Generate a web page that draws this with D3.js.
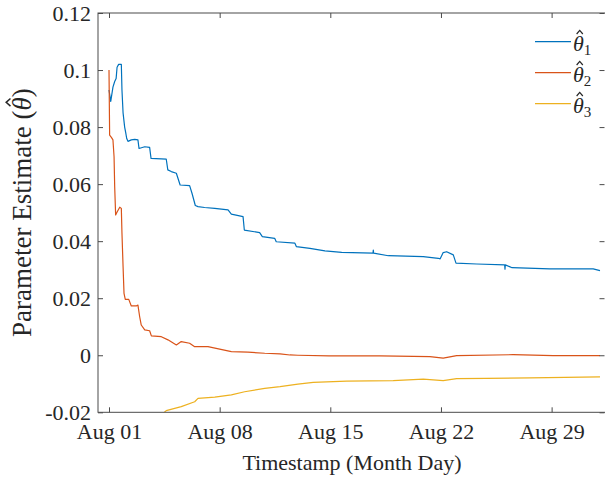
<!DOCTYPE html>
<html>
<head>
<script src="https://d3js.org/d3.v7.min.js"></script>
<style>
  body { margin: 0; background: #fff; }
  text { font-family: "Liberation Serif", "Times New Roman", serif; fill: #262626; }
</style>
</head>
<body>
<script>
// day of August (fractional), parameter value
var theta1 = [[1.00,0.093],[1.11,0.089],[1.25,0.094],[1.36,0.096],[1.45,0.097],[1.51,0.101],[1.61,0.102],[1.78,0.102],
  [1.82,0.093],[1.89,0.085],[1.99,0.080],[2.06,0.078],[2.12,0.076],[2.20,0.075],[2.41,0.0755],[2.63,0.0757],[2.83,0.0755],
  [2.90,0.0725],[3.26,0.0731],[3.57,0.0729],[3.66,0.069],[4.62,0.0688],[4.72,0.065],[4.94,0.0644],[5.26,0.0638],
  [5.50,0.0597],[6.10,0.0595],[6.25,0.0568],[6.46,0.0525],[6.63,0.0521],[7.05,0.0518],[7.69,0.0515],[8.53,0.051],
  [8.74,0.0495],[9.48,0.0486],[9.56,0.0439],[10.53,0.043],[10.70,0.0416],[11.48,0.041],[11.58,0.0398],[12.76,0.0393],
  [12.85,0.0381],[13.71,0.0375],[14.66,0.0366],[15.72,0.0361],[17.70,0.0358],[17.72,0.0369],[17.74,0.0358],[18.67,0.0349],
  [20.88,0.0346],[21.83,0.034],[21.95,0.0338],[22.14,0.036],[22.36,0.0363],[22.78,0.0352],[22.95,0.0323],[24.26,0.032],
  [26.03,0.0317],[26.05,0.0302],[26.07,0.0317],[26.50,0.0307],[28.89,0.0303],[31.63,0.0303],[32.06,0.0297]];

var theta2 = [[1.00,0.100],[1.04,0.0772],[1.15,0.0764],[1.25,0.0755],[1.32,0.0696],[1.36,0.0591],[1.42,0.0492],[1.52,0.0503],
  [1.68,0.0519],[1.78,0.0515],[1.82,0.0428],[1.89,0.0311],[1.95,0.0217],[2.03,0.0196],[2.25,0.0196],[2.41,0.0173],
  [2.73,0.0173],[2.83,0.0176],[2.94,0.0135],[3.04,0.0106],[3.26,0.0089],[3.57,0.0086],[3.68,0.0068],[4.31,0.0065],
  [4.73,0.0054],[5.26,0.0036],[5.57,0.0048],[6.10,0.0042],[6.42,0.003],[7.26,0.003],[8.74,0.0013],[9.79,0.0011],
  [10.85,0.0007],[11.82,0.0005],[12.45,0.0001],[12.95,0.0],[14.92,-0.0002],[18.14,-0.0002],[21.30,-0.0005],
  [22.14,-0.001],[22.99,-0.0001],[26.57,0.0002],[29.10,-0.0001],[32.06,-0.0001]];

var theta3 = [[4.30,-0.021],[4.62,-0.0194],[5.57,-0.018],[6.42,-0.0163],[6.63,-0.0151],[7.69,-0.0147],[8.74,-0.0139],
  [9.58,-0.0128],[10.85,-0.0116],[11.82,-0.011],[12.95,-0.0101],[13.92,-0.0095],[16.03,-0.0091],[18.98,-0.0089],
  [20.88,-0.0084],[22.14,-0.0089],[22.99,-0.0082],[24.89,-0.0081],[27.63,-0.0079],[32.06,-0.0076]];

var seriesNames = ["1", "2", "3"];
var seriesColors = ["#0072BD", "#D95319", "#EDB120"];

var xTickDays = [1, 8, 15, 22, 29];
var xTickLabels = ["Aug 01", "Aug 08", "Aug 15", "Aug 22", "Aug 29"];
var yTicks = [-0.02, 0, 0.02, 0.04, 0.06, 0.08, 0.1, 0.12];
var yTickLabels = ["-0.02", "0", "0.02", "0.04", "0.06", "0.08", "0.1", "0.12"];

var w = 605, h = 479;
var mLeft = 98, mRight = 606, mTop = 13, mBottom = 412.3;

var svg = d3.select("body").append("svg").attr("width", w).attr("height", h);

var x = d3.scaleLinear().domain([0.304, 32.44]).range([mLeft, mRight]);
var y = d3.scaleLinear().domain([-0.02, 0.12]).range([mBottom, mTop]);

svg.append("clipPath").attr("id", "clip")
  .append("rect").attr("x", mLeft).attr("y", mTop).attr("width", mRight - mLeft).attr("height", mBottom - mTop);

var line = d3.line().x(d => x(d[0])).y(d => y(d[1]));

var plot = svg.append("g").attr("clip-path", "url(#clip)");
[theta1, theta2, theta3].forEach(function (s, i) {
  plot.append("path").datum(s)
    .attr("d", line)
    .attr("fill", "none")
    .attr("stroke", seriesColors[i])
    .attr("stroke-width", 1.2)
    .attr("stroke-linejoin", "round");
});

// axes box (MATLAB style, ticks inside on all sides)
var axisColor = "#4a4a4a";
svg.append("rect").attr("x", mLeft).attr("y", mTop).attr("width", mRight - mLeft).attr("height", mBottom - mTop)
  .attr("fill", "none").attr("stroke", axisColor).attr("stroke-width", 1);

var tl = 5;
svg.append("g").attr("transform", "translate(0," + mBottom + ")")
  .call(d3.axisBottom(x).tickValues(xTickDays).tickSize(-tl).tickPadding(11)
    .tickFormat((d, i) => xTickLabels[i]))
  .call(g => g.select(".domain").remove())
  .call(g => g.selectAll("line").attr("stroke", axisColor))
  .call(g => g.selectAll("text").attr("font-size", 22).attr("fill", "#262626"));

svg.append("g").attr("transform", "translate(0," + mTop + ")")
  .call(d3.axisTop(x).tickValues(xTickDays).tickSize(-tl).tickFormat(""))
  .call(g => g.select(".domain").remove())
  .call(g => g.selectAll("line").attr("stroke", axisColor));

svg.append("g").attr("transform", "translate(" + mLeft + ",0)")
  .call(d3.axisLeft(y).tickValues(yTicks).tickSize(-tl).tickPadding(7)
    .tickFormat((d, i) => yTickLabels[i]))
  .call(g => g.select(".domain").remove())
  .call(g => g.selectAll("line").attr("stroke", axisColor))
  .call(g => g.selectAll("text").attr("font-size", 22).attr("fill", "#262626"));

svg.append("g").attr("transform", "translate(" + (mRight - 1.5) + ",0)")
  .call(d3.axisRight(y).tickValues(yTicks).tickSize(-tl).tickFormat(""))
  .call(g => g.select(".domain").remove())
  .call(g => g.selectAll("line").attr("stroke", axisColor));

// axis titles
svg.append("text")
  .attr("x", (mLeft + mRight) / 2).attr("y", 470)
  .attr("text-anchor", "middle").attr("font-size", 22)
  .text("Timestamp (Month Day)");

// small hat drawn over a theta glyph, placed from the rendered text
function addHat(g, textNode, charIndex, size) {
  var p = textNode.getStartPositionOfChar(charIndex);
  var e = textNode.getEndPositionOfChar(charIndex);
  var cx = (p.x + e.x) / 2 + size * 0.06;
  var base = p.y - size * 0.76;
  var hw = size * 0.14, hh = size * 0.16;
  g.append("path")
    .attr("d", "M" + (cx - hw) + "," + base + "L" + cx + "," + (base - hh) + "L" + (cx + hw) + "," + base)
    .attr("fill", "none").attr("stroke", "#262626").attr("stroke-width", size * 0.055)
    .attr("stroke-linejoin", "miter");
}

var ylg = svg.append("g")
  .attr("transform", "translate(31," + ((mTop + mBottom) / 2) + ") rotate(-90)");
var yl = ylg.append("text")
  .attr("text-anchor", "middle").attr("font-size", 27);
yl.append("tspan").text("Parameter Estimate (");
yl.append("tspan").attr("font-style", "italic").text("\u03B8");
yl.append("tspan").text(")");
addHat(ylg, yl.node(), 20, 27);

// legend
var lg = svg.append("g");
seriesNames.forEach(function (n, i) {
  var ly = 41.7 + i * 31;
  lg.append("line").attr("x1", 535).attr("x2", 571).attr("y1", ly).attr("y2", ly)
    .attr("stroke", seriesColors[i]).attr("stroke-width", 1.2);
  var t = lg.append("text").attr("x", 573).attr("y", ly + 9).attr("font-size", 22);
  t.append("tspan").attr("font-style", "italic").text("\u03B8");
  t.append("tspan").attr("font-size", 15).attr("dy", 4).text(n);
  addHat(lg, t.node(), 0, 22);
});
</script>
</body>
</html>
